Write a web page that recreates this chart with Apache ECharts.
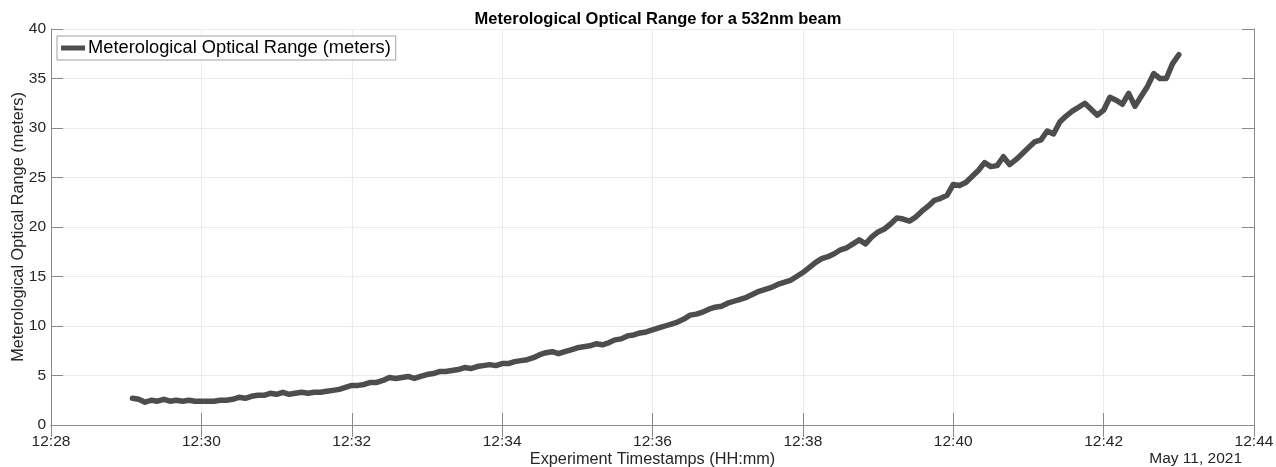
<!DOCTYPE html>
<html>
<head>
<meta charset="utf-8">
<script src="https://cdn.jsdelivr.net/npm/echarts@6/dist/echarts.min.js"></script>
<style>
html,body{margin:0;padding:0;background:#fff;}
#chart{width:1276px;height:467px;}
</style>
</head>
<body>
<div id="chart"></div>
<script>
// ---- data ----
const chartTitle = 'Meterological Optical Range for a 532nm beam';
const seriesName = 'Meterological Optical Range (meters)';
const xAxisName = 'Experiment Timestamps (HH:mm)';
const yAxisName = 'Meterological Optical Range (meters)';
const dateLabel = 'May 11, 2021';
const xTickStart = [12, 28];
const xTickEnd = [12, 44];
const xTickStepMinutes = 2;
const yTicks = [0, 5, 10, 15, 20, 25, 30, 35, 40];
const firstSample = [12, 29, 5];   // HH, MM, SS
const sampleStepSeconds = 5;
// one row per minute of samples (every 5 s)
const morValues = [
  2.7, 2.6, 2.3, 2.5, 2.4, 2.6, 2.4, 2.5, 2.4, 2.5, 2.4, 2.4,
  2.4, 2.4, 2.5, 2.5, 2.6, 2.8, 2.7, 2.9, 3.0, 3.0, 3.2, 3.1,
  3.3, 3.1, 3.2, 3.3, 3.2, 3.3, 3.3, 3.4, 3.5, 3.6, 3.8, 4.0,
  4.0, 4.1, 4.3, 4.3, 4.5, 4.8, 4.7, 4.8, 4.9, 4.7, 4.9, 5.1,
  5.2, 5.4, 5.4, 5.5, 5.6, 5.8, 5.7, 5.9, 6.0, 6.1, 6.0, 6.2,
  6.2, 6.4, 6.5, 6.6, 6.8, 7.1, 7.3, 7.4, 7.2, 7.4, 7.6, 7.8,
  7.9, 8.0, 8.2, 8.1, 8.3, 8.6, 8.7, 9.0, 9.1, 9.3, 9.4, 9.6,
  9.8, 10.0, 10.2, 10.4, 10.7, 11.1, 11.2, 11.4, 11.7, 11.9, 12.0, 12.3,
  12.5, 12.7, 12.9, 13.2, 13.5, 13.7, 13.9, 14.2, 14.4, 14.6, 15.0, 15.4,
  15.9, 16.4, 16.8, 17.0, 17.3, 17.7, 17.9, 18.3, 18.7, 18.3, 19.0, 19.5,
  19.8, 20.3, 20.9, 20.8, 20.6, 21.0, 21.6, 22.1, 22.7, 22.9, 23.2, 24.3,
  24.2, 24.5, 25.1, 25.7, 26.5, 26.1, 26.2, 27.1, 26.3, 26.8, 27.4, 28.0,
  28.6, 28.8, 29.7, 29.4, 30.6, 31.2, 31.7, 32.1, 32.5, 31.9, 31.3, 31.8,
  33.1, 32.8, 32.4, 33.5, 32.2, 33.2, 34.2, 35.5, 35.0, 35.0, 36.5, 37.4
];

// ---- build ----
const day = [2021, 4, 11];
const t0 = Date.UTC(day[0], day[1], day[2], firstSample[0], firstSample[1], firstSample[2]);
const seriesData = morValues.map((v, i) => [t0 + i * sampleStepSeconds * 1000, v]);
const xMin = Date.UTC(day[0], day[1], day[2], xTickStart[0], xTickStart[1]);
const xMax = Date.UTC(day[0], day[1], day[2], xTickEnd[0], xTickEnd[1]);
const pad = n => (n < 10 ? '0' : '') + n;
const fmtTime = v => { const d = new Date(v); return pad(d.getUTCHours()) + ':' + pad(d.getUTCMinutes()); };

const FONT = '"Liberation Sans", Arial, Helvetica, sans-serif';
const TXT = '#262626';
const AX = '#8a8a8a';
const GRID = '#ebebeb';

const chart = echarts.init(document.getElementById('chart'), null, {renderer: 'canvas'});
const plot = {left: 51, right: 22, top: 29, bottom: 42};

const baseX = {
  type: 'value', min: xMin, max: xMax, interval: xTickStepMinutes * 60000,
  axisLine: {show: true, lineStyle: {color: AX, width: 1}},
  axisTick: {show: true, inside: true, length: 12, lineStyle: {color: AX}},
  splitLine: {show: false}
};
const baseY = {
  type: 'value', min: yTicks[0], max: yTicks[yTicks.length - 1], interval: yTicks[1] - yTicks[0],
  axisLine: {show: true, lineStyle: {color: AX, width: 1}},
  axisTick: {show: true, inside: true, length: 12, lineStyle: {color: AX}},
  splitLine: {show: false}
};

chart.setOption({
  animation: false,
  backgroundColor: '#fff',
  textStyle: {fontFamily: FONT},
  title: {
    text: chartTitle, left: 653, textAlign: 'center', top: 6,
    textStyle: {fontFamily: FONT, fontSize: 16.5, fontWeight: 'bold', color: '#000'}
  },
  legend: {
    show: true, left: 57, top: 36,
    data: [{name: seriesName, icon: 'rect'}],
    itemWidth: 24, itemHeight: 5, itemGap: 0,
    padding: [3, 5, 3, 4],
    borderColor: '#a0a0a0', borderWidth: 1, backgroundColor: '#fff',
    textStyle: {fontFamily: FONT, fontSize: 18.3, color: '#000', padding: [0, 0, 0, -2]}
  },
  grid: Object.assign({show: false, containLabel: false, outerBoundsMode: 'none'}, plot),
  xAxis: [
    Object.assign({}, baseX, {
      position: 'bottom',
      axisLabel: {show: true, formatter: fmtTime, margin: 9, fontFamily: FONT, fontSize: 15.5, color: TXT,
        showMinLabel: true, showMaxLabel: true},
      splitLine: {show: true, lineStyle: {color: GRID, width: 1}},
      name: xAxisName, nameLocation: 'middle', nameGap: 27, nameMoveOverlap: false,
      nameTextStyle: {fontFamily: FONT, fontSize: 16.3, color: TXT}
    }),
    Object.assign({}, baseX, {position: 'top', axisLabel: {show: false}})
  ],
  yAxis: [
    Object.assign({}, baseY, {
      position: 'left',
      axisLabel: {show: true, margin: 5, fontFamily: FONT, fontSize: 15.5, color: TXT},
      splitLine: {show: true, lineStyle: {color: GRID, width: 1}},
      name: yAxisName, nameLocation: 'middle', nameGap: 24, nameRotate: 90, nameMoveOverlap: false,
      nameTextStyle: {fontFamily: FONT, fontSize: 16.3, color: TXT}
    }),
    Object.assign({}, baseY, {position: 'right', axisLabel: {show: false}})
  ],
  graphic: [{
    type: 'text', right: 34, top: 451,
    style: {text: dateLabel, font: '15.5px ' + FONT, fill: TXT}
  }],
  series: [{
    name: seriesName, type: 'line', xAxisIndex: 0, yAxisIndex: 0,
    data: seriesData, showSymbol: false, symbol: 'none',
    lineStyle: {color: '#4d4d4d', width: 5.5, join: 'round', cap: 'round'},
    itemStyle: {color: '#4d4d4d'}
  }]
});
</script>
</body>
</html>
